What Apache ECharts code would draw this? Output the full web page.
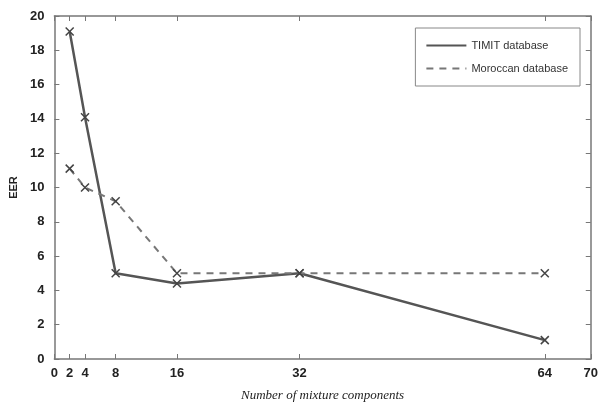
<!DOCTYPE html>
<html>
<head>
<meta charset="utf-8">
<script src="https://cdn.jsdelivr.net/npm/echarts@6/dist/echarts.min.js"></script>
<style>
html,body{margin:0;padding:0;background:#fff;}
#main{width:601px;height:407px;}
</style>
</head>
<body>
<div id="main"></div>
<script>
// data
var mixtures=[2,4,8,16,32,64];
var timitEer=[19.1,14.1,5.0,4.4,5.0,1.1];
var moroccanEer=[11.1,10.0,9.2,5.0,5.0,5.0];
var xTicks=[0,2,4,8,16,32,64,70];
var seriesNames=['TIMIT database','Moroccan database'];

function pairs(xs,ys){
	var out=[];
	for(var i=0;i<xs.length;i++){
		out.push([xs[i],ys[i]]);
	}
	return out;
}

var lineCol='#555';
var axisBase={
	type:'value',min:0,
	axisLine:{show:true,onZero:false,lineStyle:{color:'#777',width:1.5}},
	axisTick:{show:true,inside:true,length:5,lineStyle:{color:'#777'}},
	splitLine:{show:false}
};

var myChart=echarts.init(document.getElementById('main'));
myChart.setOption({
	animation:false,
	backgroundColor:'#fff',
	grid:{left:52,right:9,top:16,bottom:46},
	legend:{
		right:21,top:28,orient:'vertical',
		itemWidth:40,itemHeight:10,itemGap:10,
		padding:[11,12,11,10],
		borderColor:'#888',borderWidth:1,
		data:seriesNames,
		itemStyle:{opacity:0},
		textStyle:{fontFamily:'Liberation Sans Narrow, Liberation Sans',fontSize:11,color:'#333'}
	},
	xAxis:[
		Object.assign({},axisBase,{
			max:70,position:'bottom',
			name:'Number of mixture components',nameLocation:'middle',nameGap:30,
			nameTextStyle:{fontFamily:'Liberation Serif',fontStyle:'italic',fontSize:13,color:'#222'},
			axisTick:{show:true,inside:true,length:5,lineStyle:{color:'#777'},customValues:xTicks},
			axisLabel:{customValues:xTicks,fontWeight:'bold',fontSize:13,color:'#222',margin:8,fontFamily:'Liberation Sans'}
		}),
		Object.assign({},axisBase,{
			max:70,position:'top',
			axisTick:{show:true,inside:true,length:5,lineStyle:{color:'#777'},customValues:xTicks},
			axisLabel:{show:false}
		})
	],
	yAxis:[
		Object.assign({},axisBase,{
			max:20,interval:2,position:'left',
			name:'EER',nameLocation:'middle',nameGap:34,
			nameTextStyle:{fontWeight:'bold',fontSize:11,color:'#222',fontFamily:'Liberation Sans'},
			axisLabel:{fontWeight:'bold',fontSize:13,color:'#222',margin:10,fontFamily:'Liberation Sans'}
		}),
		Object.assign({},axisBase,{
			max:20,interval:2,position:'right',
			axisLabel:{show:false}
		})
	],
	series:[
		{
			name:seriesNames[0],type:'line',xAxisIndex:0,yAxisIndex:0,
			data:pairs(mixtures,timitEer),
			symbol:'path://M0,0L10,10M10,0L0,10',symbolSize:8,
			lineStyle:{color:lineCol,width:2.5,type:'solid'},
			itemStyle:{color:'none',borderColor:'#444',borderWidth:1.5},
			color:lineCol
		},
		{
			name:seriesNames[1],type:'line',xAxisIndex:0,yAxisIndex:0,
			data:pairs(mixtures,moroccanEer),
			symbol:'path://M0,0L10,10M10,0L0,10',symbolSize:8,
			lineStyle:{color:'#777',width:2,type:[7,6]},
			itemStyle:{color:'none',borderColor:'#444',borderWidth:1.5},
			color:'#777'
		}
	]
});
</script>
</body>
</html>
